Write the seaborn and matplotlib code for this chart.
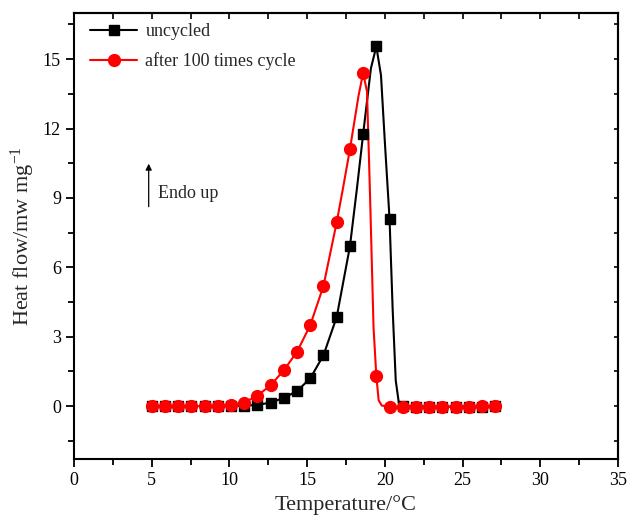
import pandas as pd
import matplotlib.pyplot as plt
import seaborn as sns
from matplotlib.lines import Line2D
from matplotlib.ticker import MultipleLocator

sns.set_style('ticks')
plt.rcParams['font.family'] = ['Liberation Serif', 'DejaVu Serif']
plt.rcParams['mathtext.fontset'] = 'custom'
plt.rcParams['mathtext.rm'] = 'Liberation Serif'
plt.rcParams['mathtext.it'] = 'Liberation Serif:italic'
plt.rcParams['axes.edgecolor'] = 'black'
plt.rcParams['xtick.color'] = 'black'
plt.rcParams['ytick.color'] = 'black'

# temperatures of the marked points (degC)
temp = [5.0, 5.85, 6.7, 7.55, 8.4, 9.25, 10.1, 10.95, 11.8, 12.65, 13.5, 14.35,
        15.2, 16.05, 16.9, 17.75, 18.6, 19.45, 20.3, 21.15, 22.0, 22.85, 23.7,
        24.55, 25.4, 26.25, 27.1]
# heat flow, mW/mg
uncycled = [0.0, 0.0, 0.0, 0.0, 0.0, 0.0, 0.0, 0.02, 0.05, 0.15, 0.35, 0.65,
            1.2, 2.2, 3.85, 6.9, 11.75, 15.55, 8.1, 0.02, -0.02, -0.03, -0.03,
            -0.02, -0.03, -0.02, 0.0]
cycled = [0.0, 0.0, 0.0, 0.0, 0.0, 0.02, 0.05, 0.15, 0.45, 0.9, 1.55, 2.35,
          3.5, 5.2, 7.95, 11.1, 14.4, 1.3, -0.02, -0.03, -0.02, -0.03, -0.03,
          -0.02, -0.02, 0.0, 0.0]

# extra points of the drawn curves between markers
uncycled_curve_t = [18.2, 19.1, 19.75, 20.0, 20.5, 20.7, 20.9]
uncycled_curve_y = [9.4, 14.6, 14.3, 11.4, 4.2, 1.1, 0.13]
cycled_curve_t = [17.3, 18.3, 18.85, 19.05, 19.27, 19.6, 19.8]
cycled_curve_y = [9.4, 13.4, 13.6, 9.0, 3.4, 0.25, 0.02]

fig, ax = plt.subplots(figsize=(6.28, 5.16), dpi=100)
fig.subplots_adjust(left=0.118, right=0.984, top=0.975, bottom=0.11)

series = [('uncycled', uncycled, uncycled_curve_t, uncycled_curve_y, 'black', 's', 7),
          ('after 100 times cycle', cycled, cycled_curve_t, cycled_curve_y, 'red', 'o', 8.5)]
handles = []
for name, vals, ct, cy, col, mk, ms in series:
    curve = pd.DataFrame({'t': temp + ct, 'y': vals + cy}).sort_values('t')
    sns.lineplot(data=curve, x='t', y='y', color=col, lw=1.5, estimator=None,
                 sort=True, ax=ax)
    ax.plot(temp, vals, ls='none', marker=mk, ms=ms, color=col, zorder=3)
    handles.append(Line2D([], [], color=col, lw=1.5, marker=mk, ms=ms))

ax.legend(handles, [s[0] for s in series], loc='upper left', frameon=False,
          fontsize=13, handlelength=2.6, handletextpad=0.45, labelspacing=0.7,
          bbox_to_anchor=(0.0, 1.014))

ax.annotate('', xy=(4.8, 10.6), xytext=(4.8, 8.5),
            arrowprops=dict(arrowstyle='-|>', color='black', lw=0.9,
                            mutation_scale=9))
ax.text(5.4, 9.2, 'Endo up', fontsize=13, va='center')

ax.set_xlim(0, 35)
ax.set_ylim(-2.3, 17)
ax.xaxis.set_major_locator(MultipleLocator(5))
ax.xaxis.set_minor_locator(MultipleLocator(2.5))
ax.yaxis.set_major_locator(MultipleLocator(3))
ax.yaxis.set_minor_locator(MultipleLocator(1.5))
ax.tick_params(which='major', direction='out', length=6, width=1.3, labelsize=13)
ax.tick_params(which='minor', direction='out', length=4, width=1.3)

top = ax.secondary_xaxis('top')
top.xaxis.set_major_locator(MultipleLocator(2.5))
top.tick_params(direction='in', length=4, width=1.2, labeltop=False)
right = ax.secondary_yaxis('right')
right.yaxis.set_major_locator(MultipleLocator(1.5))
right.tick_params(direction='in', length=3, width=1.2, labelright=False)
for sp in list(ax.spines.values()) + [top.spines['top'], right.spines['right']]:
    sp.set_linewidth(1.5)
    sp.set_color('black')

ax.set_xlabel('Temperature/\u00b0C', fontsize=16)
ax.set_ylabel('Heat flow/mw mg$^{-1}$', fontsize=16)

plt.savefig('out.png', dpi=100)
